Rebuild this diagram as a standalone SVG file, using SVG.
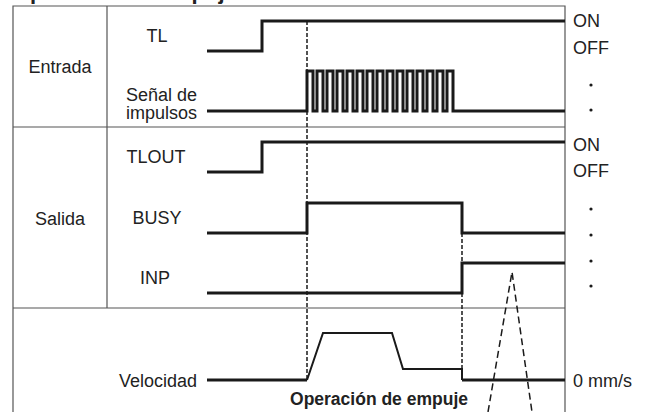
<svg xmlns="http://www.w3.org/2000/svg" width="650" height="412" viewBox="0 0 650 412">
<style>
.t{font-family:"Liberation Sans",Arial,sans-serif;font-size:18px;fill:#222}
.b{font-family:"Liberation Sans",Arial,sans-serif;font-weight:bold;fill:#222}
.grid{stroke:#555;stroke-width:1.2;fill:none}
.sig{stroke:#1a1a1a;stroke-width:3;fill:none;stroke-linejoin:miter}
.thin{stroke:#1a1a1a;stroke-width:2;fill:none}
.dash{stroke:#1a1a1a;stroke-width:1.5;fill:none;stroke-dasharray:4 2}
.dash2{stroke:#1a1a1a;stroke-width:1.5;fill:none;stroke-dasharray:7 4}
</style>
<rect width="650" height="412" fill="#fff"/>
<text class="b" x="13" y="-1.5" font-size="22">Operación de empuje</text>
<g id="table">
<path class="grid" d="M13,412 V6 H565 V412 M13,127 H565 M13,308 H565 M107,6 V308"/>
</g>
<g id="labels">
<text class="t" x="60" y="73" text-anchor="middle">Entrada</text>
<text class="t" x="60" y="225" text-anchor="middle">Salida</text>
<text class="t" x="157" y="42" text-anchor="middle">TL</text>
<text class="t" x="197" y="100.5" text-anchor="end">Señal de</text>
<text class="t" x="197" y="118.5" text-anchor="end">impulsos</text>
<text class="t" x="156" y="163" text-anchor="middle">TLOUT</text>
<text class="t" x="157" y="224" text-anchor="middle">BUSY</text>
<text class="t" x="155" y="284" text-anchor="middle">INP</text>
<text class="t" x="197" y="387" text-anchor="end">Velocidad</text>
<text class="t" x="573" y="27">ON</text>
<text class="t" x="573" y="54">OFF</text>
<text class="t" x="573" y="151">ON</text>
<text class="t" x="573" y="177">OFF</text>
<text class="t" x="573" y="387">0 mm/s</text>
<text class="b" x="379" y="405" font-size="17.5" text-anchor="middle">Operación de empuje</text>
</g>
<g id="dots" fill="#1a1a1a">
<circle cx="591" cy="85" r="1.6"/>
<circle cx="591" cy="110" r="1.6"/>
<circle cx="591" cy="209" r="1.6"/>
<circle cx="591" cy="235" r="1.6"/>
<circle cx="591" cy="261" r="1.6"/>
<circle cx="591" cy="286" r="1.6"/>
</g>
<g id="signals">
<path id="tl" class="sig" d="M207,51 H262 V21 H565"/>
<path id="pulse" class="sig" d="M207,111 H307 V71 H313 V111 H317 V71 H323 V111 H327 V71 H333 V111 H337 V71 H343 V111 H347 V71 H353 V111 H357 V71 H363 V111 H367 V71 H373 V111 H377 V71 H383 V111 H387 V71 H393 V111 H397 V71 H403 V111 H407 V71 H413 V111 H417 V71 H423 V111 H427 V71 H433 V111 H437 V71 H443 V111 H447 V71 H453 V111 H565"/>
<path id="tlout" class="sig" d="M207,172 H262 V142 H565"/>
<path id="busy" class="sig" d="M207,233 H307 V203 H462 V233 H565"/>
<path id="inp" class="sig" d="M207,293 H462 V263 H565"/>
<path id="vel1" class="sig" d="M207,380 H307"/>
<path id="vel2" class="thin" d="M307,380 L323,333 H392 L403,369 H462 V380"/>
<path id="vel3" class="sig" stroke-width="3.5" d="M462,380 H565"/>
</g>
<g id="connectors">
<path class="dash" d="M307,21 V380"/>
<path class="dash" d="M462,203 V380"/>
<path class="dash2" d="M488,412 L512,272 L532,412"/>
</g>
</svg>
